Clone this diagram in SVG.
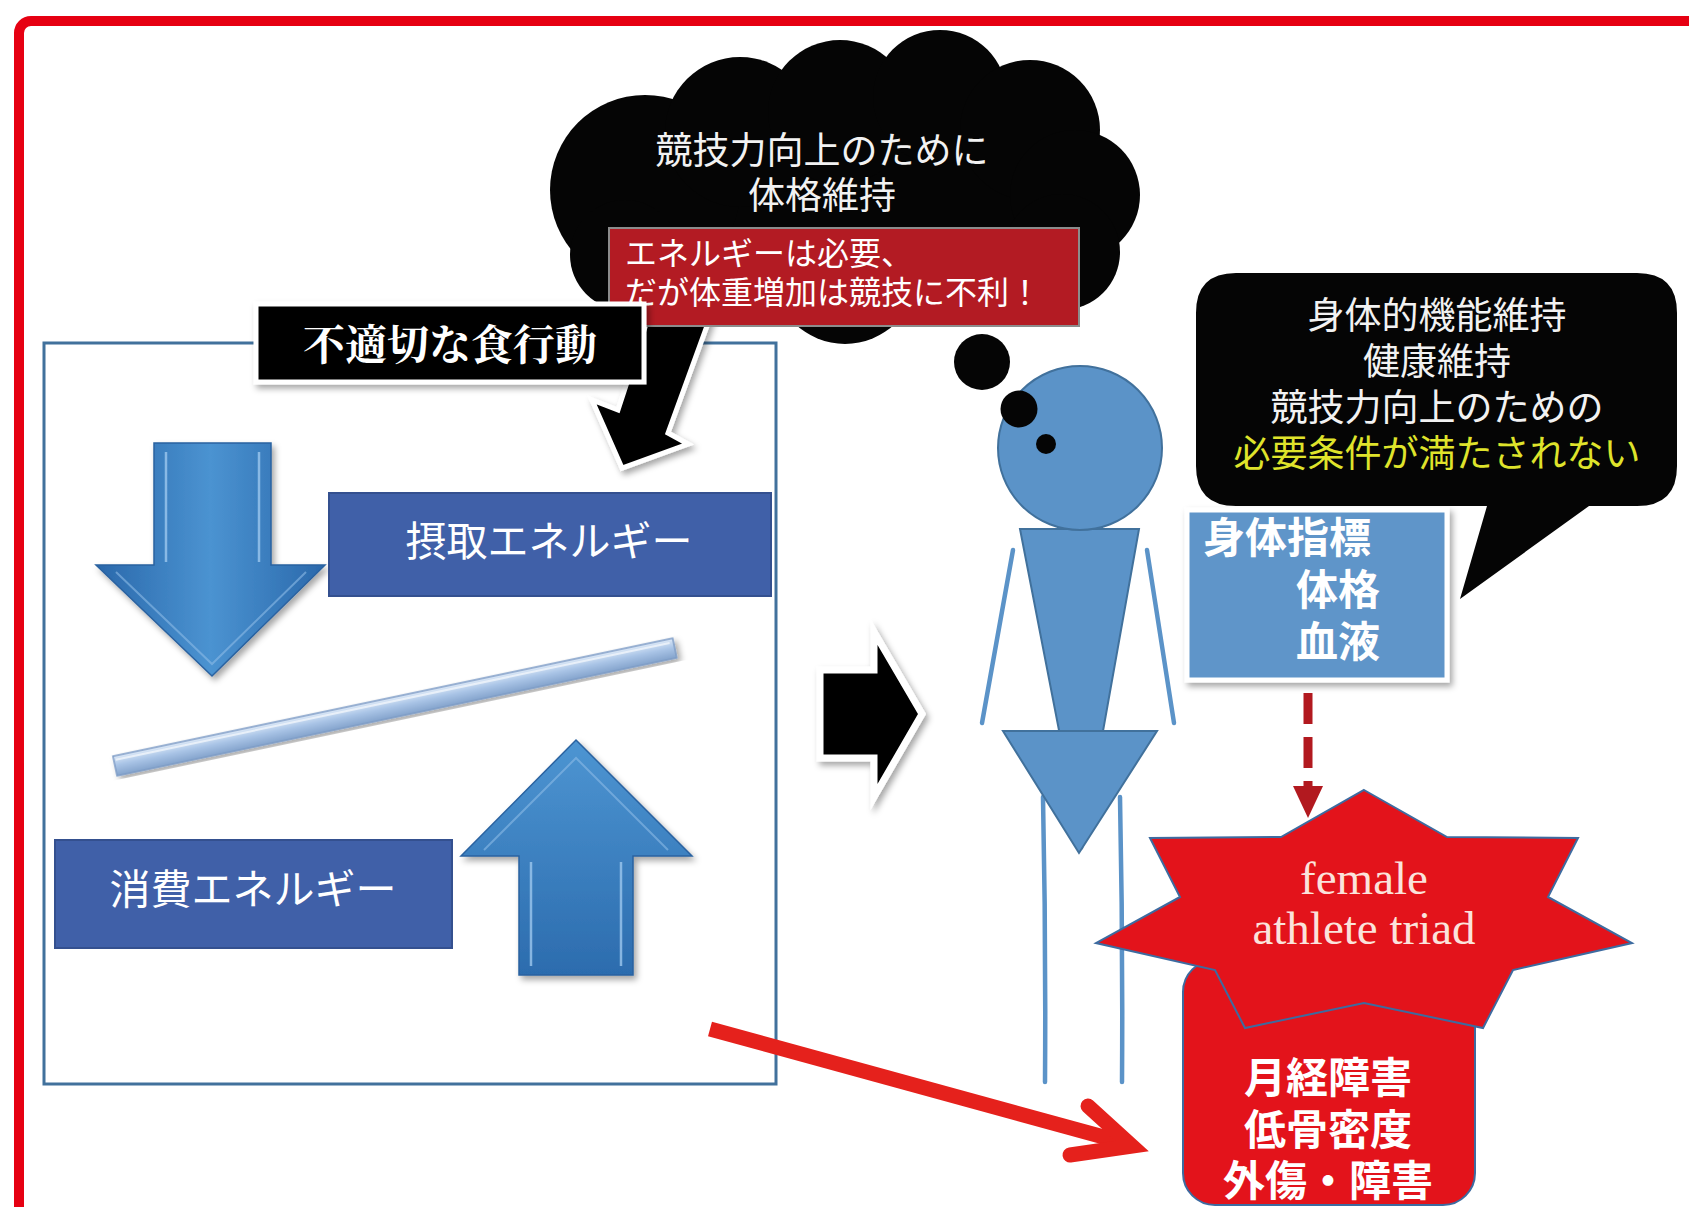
<svg xmlns="http://www.w3.org/2000/svg" width="1689" height="1207" viewBox="0 0 1689 1207">
  <defs>
    <style>
      .jp { font-family: "Noto Sans CJK JP", "Noto Sans CJK SC", sans-serif; }
      .mincho { font-family: "Noto Serif CJK JP", "Noto Sans CJK JP", serif; font-weight: 700; }
      .lat { font-family: "Liberation Serif", "DejaVu Serif", serif; }
      .white { fill: #ffffff; }
      .figure { fill: #5b93c8; stroke: #41719c; stroke-width: 2; }
      .limb { fill: none; stroke: #5b93c8; stroke-width: 4.5; stroke-linecap: round; }
      .energy { fill: #4060a8; stroke: #34508f; stroke-width: 2; }
      .cloud { fill: #050505; }
    </style>
    <filter id="shadow" x="-10%" y="-10%" width="130%" height="130%">
      <feDropShadow dx="3" dy="4" stdDeviation="3" flood-color="#000" flood-opacity="0.35"/>
    </filter>
    <linearGradient id="blueArrowV" x1="0" y1="0" x2="1" y2="0">
      <stop offset="0" stop-color="#2a68ab"/>
      <stop offset="0.5" stop-color="#4b93d1"/>
      <stop offset="1" stop-color="#2a68ab"/>
    </linearGradient>
    <linearGradient id="blueArrowUp" x1="0" y1="0" x2="0" y2="1">
      <stop offset="0" stop-color="#4d95d2"/>
      <stop offset="1" stop-color="#2c6cae"/>
    </linearGradient>
    <linearGradient id="rod" x1="0" y1="0" x2="0" y2="1">
      <stop offset="0" stop-color="#dde9f7"/>
      <stop offset="0.45" stop-color="#aac5e7"/>
      <stop offset="1" stop-color="#84a3cc"/>
    </linearGradient>
  </defs>

  <rect width="1689" height="1207" fill="#ffffff"/>

  <!-- outer frame -->
  <rect x="19" y="21" width="1720" height="1230" rx="12" fill="none" stroke="#e60012" stroke-width="10"/>

  <!-- energy balance panel -->
  <g id="balance-panel">
    <rect x="44" y="343" width="732" height="741" fill="none" stroke="#41719c" stroke-width="3"/>
  </g>

  <!-- thought cloud -->
  <g id="thought-cloud">
    <g class="cloud">
      <ellipse cx="840" cy="200" rx="225" ry="112"/>
      <circle cx="645" cy="190" r="95"/>
      <circle cx="740" cy="132" r="75"/>
      <circle cx="840" cy="112" r="72"/>
      <circle cx="940" cy="97" r="67"/>
      <circle cx="1030" cy="130" r="70"/>
      <circle cx="1075" cy="195" r="65"/>
      <circle cx="1062" cy="252" r="58"/>
      <circle cx="845" cy="272" r="72"/>
      <circle cx="625" cy="255" r="55"/>
    </g>
    <text class="jp" fill="#f2f2f2" font-size="37" text-anchor="middle" x="822" y="164">競技力向上のために</text>
    <text class="jp" fill="#f2f2f2" font-size="37" text-anchor="middle" x="822" y="209">体格維持</text>
  </g>

  <!-- arrows between shapes -->
  <g id="connectors">
    <!-- behaviour arrow into intake -->
    <polygon points="650,312 712,312 668,433 688,444 622,468 592,400 618,410" fill="#000" stroke="#ffffff" stroke-width="5" stroke-linejoin="miter" filter="url(#shadow)"/>
    <!-- balance to body -->
    <polygon points="820,670 874,670 874,632 922,714 874,797 874,758 820,758" fill="#000" stroke="#ffffff" stroke-width="7" filter="url(#shadow)"/>
    <!-- indicators to triad (dashed) -->
    <line x1="1308" y1="693" x2="1308" y2="790" stroke="#b2191f" stroke-width="9" stroke-dasharray="31 13"/>
    <polygon points="1293,786 1323,786 1308,818" fill="#b2191f"/>
    <!-- balance to disorders -->
    <line x1="710" y1="1029" x2="1122" y2="1142" stroke="#e5211c" stroke-width="15"/>
    <polyline points="1088,1106 1132,1146 1070,1155" fill="none" stroke="#e5211c" stroke-width="15" stroke-linecap="round" stroke-linejoin="miter"/>
  </g>

  <!-- cloud caption -->
  <g id="energy-note">
    <rect x="609" y="228" width="470" height="98" fill="#b31b23" stroke="#8c8c8c" stroke-width="2"/>
    <text class="jp white" font-size="32" x="625" y="265">エネルギーは必要、</text>
    <text class="jp white" font-size="32" x="625" y="304">だが体重増加は競技に不利！</text>
  </g>

  <!-- eating behaviour label -->
  <g id="eating-label">
    <rect x="256" y="304" width="388" height="78" fill="#000" stroke="#ffffff" stroke-width="5" filter="url(#shadow)"/>
    <text class="mincho white" font-size="42" text-anchor="middle" x="450" y="360">不適切な食行動</text>
  </g>

  <!-- intake -->
  <g id="intake">
    <polygon points="154,443 271,443 271,565 325,565 212,676 96,565 154,565" fill="url(#blueArrowV)" stroke="#2a62a0" stroke-width="1.5" filter="url(#shadow)"/>
    <path d="M166,452 V562 M259,452 V562" stroke="#9cc7ee" stroke-width="2.5" fill="none" opacity="0.8"/>
    <path d="M116,572 L212,664 L306,572" stroke="#8cbbe6" stroke-width="2" fill="none" opacity="0.6"/>
    <rect class="energy" x="329" y="493" width="442" height="103"/>
    <text class="jp white" font-size="41" text-anchor="middle" x="549" y="556">摂取エネルギー</text>
  </g>

  <!-- balance rod -->
  <g id="rod-bar">
    <g transform="translate(115,766) rotate(-11.9)">
      <rect x="0" y="-10" width="572" height="20" fill="url(#rod)" stroke="#7d9cc6" stroke-width="1.5" filter="url(#shadow)"/>
      <line x1="2" y1="-6" x2="568" y2="-6" stroke="#ffffff" stroke-width="2" opacity="0.6"/>
    </g>
  </g>

  <!-- expenditure -->
  <g id="expenditure">
    <polygon points="576,740 692,856 633,856 633,975 519,975 519,856 461,856" fill="url(#blueArrowUp)" stroke="#2a62a0" stroke-width="1.5" filter="url(#shadow)"/>
    <path d="M531,862 V966 M621,862 V966" stroke="#9cc7ee" stroke-width="2.5" fill="none" opacity="0.8"/>
    <path d="M484,850 L576,758 L668,850" stroke="#8cbbe6" stroke-width="2" fill="none" opacity="0.6"/>
    <rect class="energy" x="55" y="840" width="397" height="108"/>
    <text class="jp white" font-size="41" text-anchor="middle" x="253" y="904">消費エネルギー</text>
  </g>

  <!-- athlete figure -->
  <g id="athlete">
    <line class="limb" x1="1013" y1="550" x2="982" y2="723"/>
    <line class="limb" x1="1147" y1="550" x2="1174" y2="723"/>
    <path class="limb" d="M1043,797 Q1046,940 1045,1082"/>
    <path class="limb" d="M1120,797 Q1123,940 1122,1082"/>
    <polygon class="figure" points="1020,529 1139,529 1082,849"/>
    <polygon class="figure" points="1003,731 1157,731 1079,853"/>
    <circle class="figure" cx="1080" cy="448" r="82"/>
    <circle cx="982" cy="362" r="28" fill="#050505"/>
    <circle cx="1019" cy="409" r="18.5" fill="#050505"/>
    <circle cx="1046" cy="444" r="10" fill="#050505"/>
  </g>

  <!-- requirement bubble -->
  <g id="requirement-bubble">
    <path d="M1236,273 H1637 Q1677,273 1677,313 V466 Q1677,506 1637,506 H1589 L1460,599 L1487,506 H1236 Q1196,506 1196,466 V313 Q1196,273 1236,273 Z" fill="#050505"/>
    <text class="jp" fill="#f2f2f2" font-size="37" text-anchor="middle" x="1437" y="329">身体的機能維持</text>
    <text class="jp" fill="#f2f2f2" font-size="37" text-anchor="middle" x="1437" y="375">健康維持</text>
    <text class="jp" fill="#f2f2f2" font-size="37" text-anchor="middle" x="1437" y="421">競技力向上のための</text>
    <text class="jp" fill="#dfe32b" font-size="37" text-anchor="middle" x="1437" y="467">必要条件が満たされない</text>
  </g>

  <!-- body indicators -->
  <g id="indicators">
    <rect x="1187" y="510" width="260" height="170" fill="#5f95c9" stroke="#ffffff" stroke-width="5" filter="url(#shadow)"/>
    <text class="jp white" font-size="42" font-weight="700" x="1203" y="553">身体指標</text>
    <text class="jp white" font-size="42" font-weight="700" x="1296" y="605">体格</text>
    <text class="jp white" font-size="42" font-weight="700" x="1296" y="657">血液</text>
  </g>

  <!-- disorders -->
  <g id="disorders">
    <rect x="1183" y="960" width="292" height="245" rx="32" fill="#e3131b" stroke="#3d6ba0" stroke-width="2"/>
    <text class="jp white" font-size="42" font-weight="700" text-anchor="middle" x="1328" y="1093">月経障害</text>
    <text class="jp white" font-size="42" font-weight="700" text-anchor="middle" x="1328" y="1145">低骨密度</text>
    <text class="jp white" font-size="42" font-weight="700" text-anchor="middle" x="1328" y="1196">外傷・障害</text>
  </g>

  <!-- triad star -->
  <g id="triad">
    <polygon points="1364,790 1447,837 1578,838 1548,897 1632,943 1513,970 1483,1028 1364,1003 1245,1028 1215,970 1096,943 1180,897 1150,838 1281,837" fill="#e3131b" stroke="#3d6ba0" stroke-width="2" stroke-linejoin="miter"/>
    <text class="lat" fill="#fbe3dc" font-size="47" text-anchor="middle" x="1364" y="894">female</text>
    <text class="lat" fill="#fbe3dc" font-size="47" text-anchor="middle" x="1364" y="944">athlete triad</text>
  </g>
</svg>
